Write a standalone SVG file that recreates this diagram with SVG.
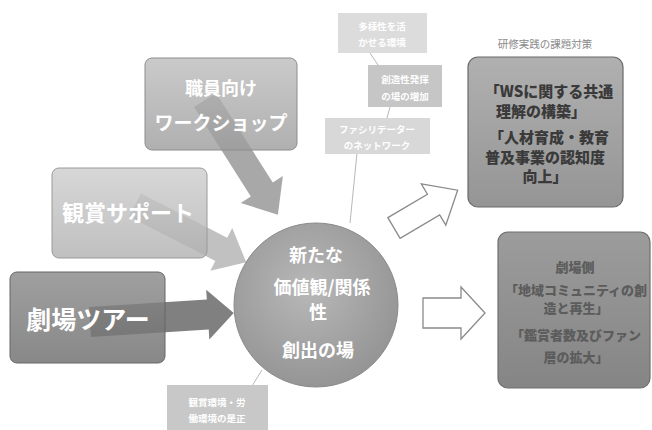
<svg xmlns="http://www.w3.org/2000/svg" width="652" height="430" viewBox="0 0 652 430">
<defs>
<style>
.jp{font-family:"Noto Sans CJK JP","Noto Sans CJK SC",sans-serif;}
.wt{fill:#ffffff;font-weight:bold;}
.dk{fill:#3a3a3a;font-weight:900;}
.md{fill:#5c5c5c;font-weight:900;}
.sm{fill:#ffffff;font-size:9.5px;font-weight:bold;}
.thin{stroke:#b8b8b8;stroke-width:1;fill:none;}
.outl{fill:#ffffff;stroke:#8a8a8a;stroke-width:1.3;}
</style>
<linearGradient id="gA" x1="0" y1="0" x2="0" y2="1">
<stop offset="0" stop-color="#bdbdbd"/><stop offset="1" stop-color="#9c9c9c"/>
</linearGradient>
<linearGradient id="gB" x1="0" y1="0" x2="0" y2="1">
<stop offset="0" stop-color="#cdcdcd"/><stop offset="1" stop-color="#b0b0b0"/>
</linearGradient>
<linearGradient id="gC" x1="0" y1="0" x2="0" y2="1">
<stop offset="0" stop-color="#8a8a8a"/><stop offset="1" stop-color="#6e6e6e"/>
</linearGradient>
<linearGradient id="gR1" x1="0" y1="0" x2="0" y2="1">
<stop offset="0" stop-color="#b0b0b0"/><stop offset="1" stop-color="#959595"/>
</linearGradient>
<linearGradient id="gR2" x1="0" y1="0" x2="0" y2="1">
<stop offset="0" stop-color="#9c9c9c"/><stop offset="1" stop-color="#858585"/>
</linearGradient>
<radialGradient id="gCirc" cx="0.45" cy="0.4" r="0.65">
<stop offset="0" stop-color="#b8b8b8"/><stop offset="1" stop-color="#929292"/>
</radialGradient>
</defs>
<rect width="652" height="430" fill="#ffffff"/>

<g id="connectors">
<line class="thin" x1="370" y1="53" x2="378" y2="65"/>
<line class="thin" x1="390" y1="107" x2="387" y2="118"/>
<line class="thin" x1="357" y1="153" x2="350" y2="223"/>
<line class="thin" x1="262" y1="370" x2="252" y2="386"/>
<path d="M0,-13 L106,-13 L106,-25 L136,0 L106,25 L106,13 L0,13 Z" fill="#6e6e6e" fill-opacity="0.6" transform="translate(205,100) rotate(57.6)"/>
<path d="M0,-13 L97,-13 L97,-24 L125,0 L97,24 L97,13 L0,13 Z" fill="#a0a0a0" fill-opacity="0.65" transform="translate(135,205) rotate(27.2)"/>
<path d="M0,-15 L118,-15 L118,-25 L144,0 L118,25 L118,15 L0,15 Z" fill="#555555" fill-opacity="0.75" transform="translate(90,322) rotate(-3.6)"/>
<path class="outl" d="M0,-12 L46,-12 L46,-24 L74,0 L46,24 L46,12 L0,12 Z" transform="translate(394,228) rotate(-30.7)"/>
<path class="outl" d="M0,-15 L38,-15 L38,-26 L62,0 L38,26 L38,15 L0,15 Z" transform="translate(423,313)"/>
</g>

<g id="node-shokuin">
<rect x="145" y="58" width="152" height="92" rx="7" fill="url(#gA)" fill-opacity="0.8" stroke="#8c8c8c" stroke-width="1"/>
<text class="jp wt" x="221" y="95" font-size="18" text-anchor="middle">職員向け</text>
<text class="jp wt" x="221" y="130" font-size="19" text-anchor="middle">ワークショップ</text>
</g>

<g id="node-kansho">
<rect x="52" y="168" width="155" height="90" rx="7" fill="url(#gB)" fill-opacity="0.8" stroke="#9a9a9a" stroke-width="1"/>
<text class="jp wt" x="128" y="221" font-size="22" text-anchor="middle">観賞サポート</text>
</g>

<g id="node-tour">
<rect x="10" y="272" width="155" height="91" rx="7" fill="url(#gC)" fill-opacity="0.82" stroke="#666" stroke-width="1"/>
<text class="jp wt" x="88" y="329" font-size="25" text-anchor="middle">劇場ツアー</text>
</g>

<g id="node-center">
<circle cx="316" cy="305" r="82" fill="url(#gCirc)" stroke="#8a8a8a" stroke-width="1"/>
<text class="jp wt" x="316" y="262" font-size="18" text-anchor="middle">新たな</text>
<text class="jp wt" x="322" y="294" font-size="18" text-anchor="middle">価値観/関係</text>
<text class="jp wt" x="318" y="319" font-size="18" text-anchor="middle">性</text>
<text class="jp wt" x="318" y="357" font-size="18" text-anchor="middle">創出の場</text>
</g>

<g id="node-tayousei">
<rect x="338" y="13" width="89" height="40" fill="#dcdcdc"/>
<text class="jp sm" x="382" y="30" text-anchor="middle">多様性を活</text>
<text class="jp sm" x="382" y="46" text-anchor="middle">かせる環境</text>
</g>

<g id="node-souzousei">
<rect x="368" y="65" width="74" height="42" fill="#c6c6c6"/>
<text class="jp sm" x="405" y="83" text-anchor="middle">創造性発揮</text>
<text class="jp sm" x="405" y="100" text-anchor="middle">の場の増加</text>
</g>

<g id="node-facilitator">
<rect x="325" y="118" width="105" height="36" fill="#d8d8d8"/>
<text class="jp sm" x="377" y="133" text-anchor="middle">ファシリテーター</text>
<text class="jp sm" x="377" y="149" text-anchor="middle">のネットワーク</text>
</g>

<g id="node-kankyou">
<rect x="167" y="385" width="101" height="45" fill="#c8c8c8"/>
<text class="jp sm" x="217" y="406" text-anchor="middle">観賞環境・労</text>
<text class="jp sm" x="217" y="422" text-anchor="middle">働環境の是正</text>
</g>

<g id="node-kenshu">
<text class="jp" x="545" y="48" font-size="10.5" fill="#8a8a8a" text-anchor="middle">研修実践の課題対策</text>
<rect x="468" y="57" width="155" height="150" rx="10" fill="url(#gR1)" stroke="#6a6a6a" stroke-width="1.2"/>
<text class="jp dk" x="549" y="97" font-size="15" text-anchor="middle">「WSに関する共通</text>
<text class="jp dk" x="541" y="117" font-size="15" text-anchor="middle">理解の構築」</text>
<text class="jp dk" x="549" y="143" font-size="15" text-anchor="middle">「人材育成・教育</text>
<text class="jp dk" x="545" y="163" font-size="15" text-anchor="middle">普及事業の認知度</text>
<text class="jp dk" x="545" y="182" font-size="15" text-anchor="middle">向上」</text>
</g>

<g id="node-gekijou">
<rect x="498" y="232" width="152" height="156" rx="10" fill="url(#gR2)" stroke="#6f6f6f" stroke-width="1.2"/>
<text class="jp md" x="575" y="272" font-size="13" text-anchor="middle">劇場側</text>
<text class="jp md" x="576" y="295" font-size="13" text-anchor="middle">「地域コミュニティの創</text>
<text class="jp md" x="576" y="313" font-size="13" text-anchor="middle">造と再生」</text>
<text class="jp md" x="576" y="340" font-size="13" text-anchor="middle">「鑑賞者数及びファン</text>
<text class="jp md" x="576" y="362" font-size="13" text-anchor="middle">層の拡大」</text>
</g>
</svg>
